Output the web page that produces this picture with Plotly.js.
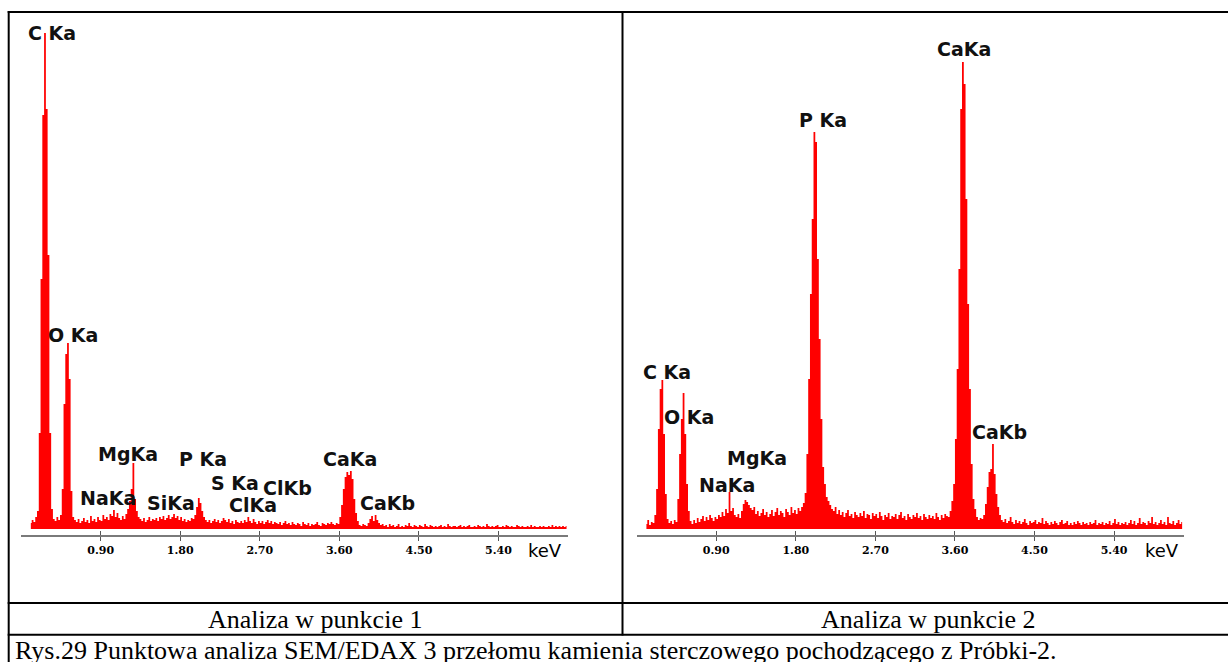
<!DOCTYPE html>
<html><head><meta charset="utf-8">
<script src="https://cdn.plot.ly/plotly-3.0.1.min.js"></script>
<style>html,body{margin:0;padding:0;background:#fff}#chart{width:1228px;height:662px}</style>
</head><body><div id="chart"></div>
<script>
// Detector channel grid (keV)
const channelStartKeV = 0.11;
const channelWidthKeV = 0.02;

const countsPoint1 = [
  6,9,7,12,18,96,250,414,496,420,
  274,96,20,10,8,12,9,14,40,125,
  175,186,150,38,12,9,7,10,6,8,
  11,7,9,6,13,8,10,7,12,9,
  8,14,10,12,9,15,13,19,12,16,
  11,9,13,10,15,20,28,40,66,30,
  18,12,10,8,11,7,9,12,8,10,
  9,11,8,12,10,13,9,11,14,10,
  12,15,11,13,9,12,8,10,7,9,
  8,11,10,14,22,31,26,18,12,9,
  7,9,6,8,10,7,9,6,8,11,
  9,7,10,6,8,5,9,7,6,8,
  6,9,7,12,8,6,10,7,5,8,
  6,8,5,7,9,6,8,5,7,6,
  5,7,4,6,8,5,6,4,7,5,
  4,6,5,3,7,5,4,6,3,5,
  4,5,7,4,3,6,5,4,6,5,
  7,5,4,6,5,12,24,40,52,57,
  54,58,50,30,16,8,4,3,5,4,
  3,6,10,13,8,14,9,6,4,5,
  3,4,2,5,3,4,2,3,5,2,
  3,2,4,3,6,3,2,4,3,2,
  4,3,2,5,3,2,4,3,2,3,
  2,3,4,2,3,2,5,3,2,3,
  3,2,3,4,2,3,2,3,4,2,
  2,3,2,4,3,2,3,2,5,3,
  2,3,2,3,4,2,2,3,2,4,
  3,2,3,2,2,4,3,2,3,2,
  2,3,2,4,2,3,2,2,3,2,
  3,2,2,3,2,4,2,3,2,3,
  2,3,2,3
];

const countsPoint2 = [
  5,9,4,7,6,14,40,100,140,149,
  95,35,10,6,8,5,9,7,30,75,
  110,136,95,45,18,8,5,9,6,11,
  7,10,13,8,12,9,14,11,8,12,
  10,14,12,17,13,20,16,37,18,21,
  14,12,15,11,18,25,29,27,24,21,
  19,22,15,18,13,16,20,14,17,12,
  15,19,13,17,21,14,18,16,12,20,
  17,14,22,16,19,15,21,18,22,26,
  36,75,150,235,310,397,387,270,190,110,
  62,45,32,28,24,20,18,22,15,19,
  14,17,12,16,19,13,15,11,17,14,
  12,16,13,18,11,15,14,10,16,13,
  15,11,17,13,9,14,12,16,10,13,
  12,15,10,14,17,11,13,9,15,12,
  10,14,12,16,11,13,9,15,12,10,
  14,11,13,10,16,12,9,14,11,15,
  13,12,18,28,45,90,160,260,420,467,
  445,330,225,140,65,30,20,12,9,11,
  10,14,25,42,57,60,85,55,35,22,
  14,9,7,10,6,8,12,7,5,9,
  6,8,5,7,10,6,4,8,6,7,
  9,5,7,6,11,5,8,6,4,7,
  5,8,6,4,7,9,5,6,8,4,
  6,4,7,5,8,6,4,7,5,6,
  4,7,5,6,9,4,6,5,7,4,
  6,5,8,4,6,10,5,7,4,6,
  5,7,4,6,9,5,8,4,6,11,
  5,7,6,4,8,6,12,5,7,4,
  6,9,5,7,4,12,6,5,8,4,
  6,9,5,7
];

const tickValues = [0.9, 1.8, 2.7, 3.6, 4.5, 5.4];
const tickLabels = ["0.90", "1.80", "2.70", "3.60", "4.50", "5.40"];
const axisUnit = "keV";
const peakNames1 = ["C Ka", "O Ka", "NaKa", "MgKa", "SiKa", "P Ka", "S Ka", "ClKa", "ClKb", "CaKa", "CaKb"];
const peakNames2 = ["C Ka", "O Ka", "NaKa", "MgKa", "P Ka", "CaKa", "CaKb"];
const panelTitles = ["Analiza w punkcie 1", "Analiza w punkcie 2"];
const figureCaption = "Rys.29 Punktowa analiza SEM/EDAX 3 przełomu kamienia sterczowego pochodzącego z Próbki-2.";

// ---------- drawing ----------
const energies = countsPoint1.map((_, i) => +(channelStartKeV + i * channelWidthKeV).toFixed(2));

const W = 1228, H = 662;
const px = v => v / W;           // page x pixel -> paper
const py = v => (H - v) / H;     // page y pixel -> paper

function spectrum(counts, xa, ya) {
  return {
    type: 'scatter', mode: 'lines', x: energies, y: counts,
    xaxis: xa, yaxis: ya, line: {shape: 'hvh', width: 0, color: '#ff0000'},
    fill: 'tozeroy', fillcolor: '#ff0000', hoverinfo: 'x+y', showlegend: false
  };
}

const traces = [
  spectrum(countsPoint1, 'x', 'y'),
  spectrum(countsPoint2, 'x2', 'y2'),
  {type: 'scatter', x: [], y: [], xaxis: 'x3', yaxis: 'y', showlegend: false},
  {type: 'scatter', x: [], y: [], xaxis: 'x4', yaxis: 'y2', showlegend: false}
];

const xRange = [0, 6.19];
const yRange = [-6, 500];
const plotYDomain = [py(535), py(29)];
const dom1 = [px(21.1), px(568.3)];
const dom2 = [px(636.7), px(1183.9)];

function mainX(domain, anchor) {
  return {
    domain: domain, anchor: anchor, range: xRange, fixedrange: true,
    showline: true, linecolor: '#7a7a7a', linewidth: 2,
    tickmode: 'array', tickvals: tickValues, ticktext: tickLabels,
    ticks: 'outside', ticklen: 4, tickwidth: 1, tickcolor: '#555',
    tickfont: {family: 'DejaVu Serif', size: 11, color: '#000', weight: 'bold'},
    showgrid: false, zeroline: false
  };
}
function innerTicks(over, domain, anchor) {
  return {
    overlaying: over, domain: domain, anchor: anchor, range: xRange, fixedrange: true,
    tickmode: 'array', tickvals: tickValues, ticks: 'inside', ticklen: 4, tickwidth: 1,
    tickcolor: '#555', showticklabels: false, showline: false, showgrid: false, zeroline: false
  };
}
function hiddenY(anchor) {
  return {domain: plotYDomain, anchor: anchor, range: yRange, visible: false, fixedrange: true};
}

const labelFont = {family: 'DejaVu Sans', size: 19, color: '#111', weight: 'bold'};
// label anchor positions [keV, counts] for each peak name
const labelPos1 = [[0.344, 496], [0.587, 194], [0.983, 31], [1.204, 75], [1.69, 26], [2.058, 70],
                   [2.42, 46], [2.618, 24], [3.014, 41], [3.721, 70], [4.145, 26]];
const labelPos2 = [[0.348, 157], [0.592, 112], [1.016, 44], [1.361, 71], [2.102, 409], [3.708, 480], [4.104, 97]];

const annotations = [];
peakNames1.forEach((t, i) => annotations.push({text: t, x: labelPos1[i][0], y: labelPos1[i][1], xref: 'x', yref: 'y',
  showarrow: false, font: labelFont, xanchor: 'center', yanchor: 'middle'}));
peakNames2.forEach((t, i) => annotations.push({text: t, x: labelPos2[i][0], y: labelPos2[i][1], xref: 'x2', yref: 'y2',
  showarrow: false, font: labelFont, xanchor: 'center', yanchor: 'middle'}));
const unitFont = {family: 'DejaVu Sans', size: 18, color: '#000'};
annotations.push({text: axisUnit, x: 5.927, xref: 'x', y: py(550), yref: 'paper', showarrow: false, font: unitFont, xanchor: 'center', yanchor: 'middle'});
annotations.push({text: axisUnit, x: 5.937, xref: 'x2', y: py(550), yref: 'paper', showarrow: false, font: unitFont, xanchor: 'center', yanchor: 'middle'});

const capFont = {family: 'Liberation Serif', size: 26, color: '#000'};
annotations.push({text: panelTitles[0], x: px(315), y: py(619), xref: 'paper', yref: 'paper', showarrow: false, font: capFont, xanchor: 'center', yanchor: 'middle'});
annotations.push({text: panelTitles[1], x: px(928), y: py(619), xref: 'paper', yref: 'paper', showarrow: false, font: capFont, xanchor: 'center', yanchor: 'middle'});
annotations.push({text: figureCaption, x: px(13), y: py(650), xref: 'paper', yref: 'paper', showarrow: false, font: capFont, xanchor: 'left', yanchor: 'middle'});

const border = {color: '#000', width: 2};
const shapes = [
  {type: 'line', xref: 'paper', yref: 'paper', x0: px(7.7), x1: 1, y0: py(12), y1: py(12), line: border},
  {type: 'line', xref: 'paper', yref: 'paper', x0: px(8.7), x1: px(8.7), y0: py(11), y1: 0, line: border},
  {type: 'line', xref: 'paper', yref: 'paper', x0: px(622.5), x1: px(622.5), y0: py(11), y1: py(635.5), line: border},
  {type: 'line', xref: 'paper', yref: 'paper', x0: px(7.7), x1: 1, y0: py(603), y1: py(603), line: border},
  {type: 'line', xref: 'paper', yref: 'paper', x0: px(7.7), x1: 1, y0: py(634.7), y1: py(634.7), line: border}
];

const layout = {
  width: W, height: H, margin: {l: 0, r: 0, t: 0, b: 0, pad: 0},
  paper_bgcolor: '#fff', plot_bgcolor: 'rgba(0,0,0,0)', showlegend: false,
  xaxis: mainX(dom1, 'y'), yaxis: hiddenY('x'),
  xaxis2: mainX(dom2, 'y2'), yaxis2: hiddenY('x2'),
  xaxis3: innerTicks('x', dom1, 'y'), xaxis4: innerTicks('x2', dom2, 'y2'),
  annotations: annotations, shapes: shapes
};

Plotly.newPlot('chart', traces, layout, {displayModeBar: false, staticPlot: true});
</script>
</body></html>
